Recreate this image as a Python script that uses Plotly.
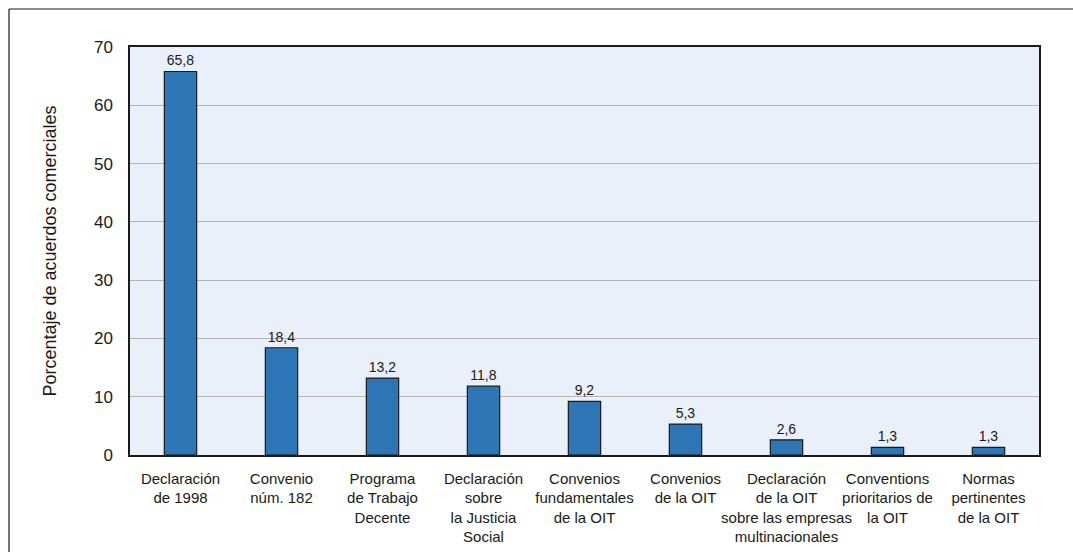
import plotly.graph_objects as go

categories = [
    "Declaración<br>de 1998",
    "Convenio<br>núm. 182",
    "Programa<br>de Trabajo<br>Decente",
    "Declaración<br>sobre<br>la Justicia<br>Social",
    "Convenios<br>fundamentales<br>de la OIT",
    "Convenios<br>de la OIT",
    "Declaración<br>de la OIT<br>sobre las empresas<br>multinacionales",
    "Conventions<br>prioritarios de<br>la OIT",
    "Normas<br>pertinentes<br>de la OIT",
]
values = [65.8, 18.4, 13.2, 11.8, 9.2, 5.3, 2.6, 1.3, 1.3]
value_labels = ["65,8", "18,4", "13,2", "11,8", "9,2", "5,3", "2,6", "1,3", "1,3"]
y_ticks = [0, 10, 20, 30, 40, 50, 60, 70]

FONT = "Liberation Sans, Arial, sans-serif"

fig = go.Figure(
    go.Bar(
        x=categories,
        y=values,
        text=value_labels,
        textposition="outside",
        textfont=dict(size=14, color="#1a1a1a", family=FONT),
        cliponaxis=False,
        marker=dict(color="#2e75b6", line=dict(color="#1a1a1a", width=1.2)),
        width=0.32,
    )
)

L, R, T, B = 130, 34, 47, 97
W, H = 1073, 552
pw, ph = W - L - R, H - T - B

fig.update_layout(
    width=W,
    height=H,
    margin=dict(l=L, r=R, t=T, b=B, pad=0),
    paper_bgcolor="white",
    plot_bgcolor="#eaf0f9",
    font=dict(family=FONT, size=14, color="#1a1a1a"),
    showlegend=False,
)
fig.update_xaxes(
    showline=True, linecolor="#1a1a1a", linewidth=1.5, mirror=True,
    ticks="", showgrid=False, tickfont=dict(size=15, family=FONT),
    tickangle=0, automargin=False, ticklabelstandoff=9,
)
fig.update_yaxes(
    range=[0, 70], tickvals=y_ticks, showline=True, linecolor="#1a1a1a",
    linewidth=1.5, mirror=True, showgrid=True, gridcolor="#b4b4b4", gridwidth=1,
    ticks="", tickfont=dict(size=17, family=FONT), zeroline=False,
    title=dict(text="Porcentaje de acuerdos comerciales", font=dict(size=18, family=FONT), standoff=33),
    ticklabelstandoff=12, automargin=False,
)

x0 = (9 - L) / pw
y1 = 1 + (T - 9) / ph
fig.add_shape(type="line", xref="paper", yref="paper", x0=x0, x1=(W + 5 - L) / pw, y0=y1, y1=y1,
              line=dict(color="#1a1a1a", width=1.2))
fig.add_shape(type="line", xref="paper", yref="paper", x0=x0, x1=x0, y0=y1, y1=-(B + 5) / ph,
              line=dict(color="#1a1a1a", width=1.2))

fig.write_html("out.html")
